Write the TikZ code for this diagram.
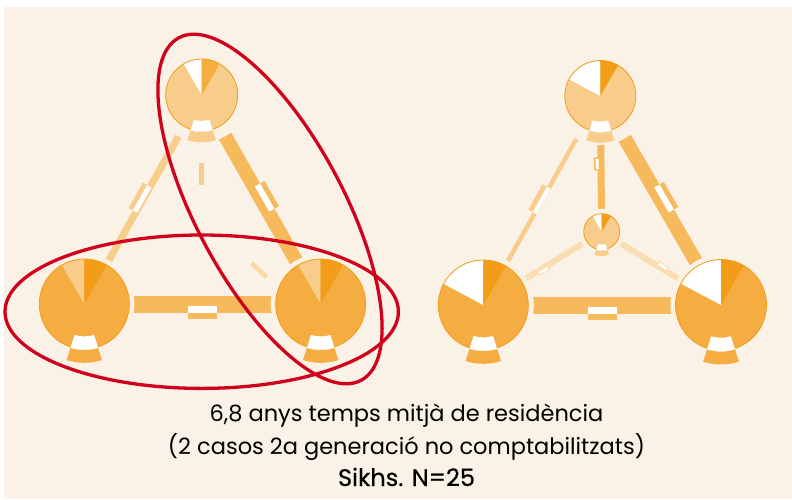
\documentclass[tikz,border=0pt]{standalone}
\usepackage{fontspec}
\setmainfont{Poppins}
\usepackage{tikz}
\usetikzlibrary{calc}
\definecolor{bgcream}{HTML}{FAF2E6}
\definecolor{lightor}{HTML}{F8CD8B}
\definecolor{midor}{HTML}{F5AD42}
\definecolor{edgeor}{HTML}{F6B95B}
\definecolor{darkor}{HTML}{F39C17}
\definecolor{paleor}{HTML}{FBDDB3}
\definecolor{ringred}{HTML}{D0021B}
% pie: centre, radius, base, end of left wedge, left wedge, right wedge, loop colour
\newcommand{\sharepie}[7]{%
  \pgfmathsetmacro{\pieRin}{0.72*#2}%
  \pgfmathsetmacro{\pieRout}{#2+0.6}%
  \pgfmathsetmacro{\pieRbot}{#2+1.2}%
  \pgfmathsetmacro{\pieRband}{1.28*#2+1.2}%
  \fill[#3] (#1) circle[radius=#2];
  \fill[#5] (#1) -- ++(90:#2) arc[start angle=90,end angle=#4,radius=#2] -- cycle;
  \fill[#6] (#1) -- ++(60:#2) arc[start angle=60,end angle=90,radius=#2] -- cycle;
  \draw[darkor,line width=0.8pt] (#1) circle[radius=#2];
  \fill[white] ($(#1)+(252.5:\pieRin)$) arc[start angle=252.5,end angle=287.5,radius=\pieRin]
    -- ($(#1)+(287.5:\pieRout)$) arc[start angle=287.5,end angle=252.5,radius=\pieRout] -- cycle;
  \fill[#7] ($(#1)+(252.5:\pieRbot)$) arc[start angle=252.5,end angle=287.5,radius=\pieRbot]
    -- ($(#1)+(287.5:\pieRband)$) arc[start angle=287.5,end angle=252.5,radius=\pieRband] -- cycle;
}
\tikzset{
  tag/.style={midway,sloped,inner sep=0pt,outer sep=0pt,minimum width=29pt},
  smalltag/.style={midway,sloped,inner sep=0pt,outer sep=0pt,minimum width=13pt},
  ring/.style={ringred,line width=3.3pt},
  caption/.style={anchor=base,font=\fontsize{22.5}{27}\selectfont},
}

\begin{document}
\begin{tikzpicture}[x=1pt,y=1pt]
\useasboundingbox (0,0) rectangle (792,-499);
\fill[white] (0,0) rectangle (792,-499);
\fill[bgcream] (4,-7) rectangle (792,-499);

%node centres
\coordinate (lt) at (201.7,-95);
\coordinate (lbl) at (84.3,-304);
\coordinate (lbr) at (320.7,-304);
\coordinate (rt) at (600.3,-96);
\coordinate (rbl) at (483.3,-305);
\coordinate (rbr) at (721,-305);
\coordinate (rc) at (601.7,-231.7);

%left edges
\draw[lightor,line width=7pt] (lt) -- (lbl)
  node[tag,above=-1.5pt,minimum height=10pt,fill=lightor]{}
  node[tag,above=-1.5pt,minimum height=5pt,fill=white]{};
\draw[edgeor,line width=14pt] (lt) -- (lbr)
  node[tag,above=1pt,minimum height=11pt,fill=edgeor]{}
  node[tag,above=1pt,minimum height=6pt,fill=white]{};
\draw[edgeor,line width=17pt] (lbl) -- (lbr)
  node[tag,below=2.2pt,minimum height=12.3pt,fill=edgeor]{}
  node[tag,below=2.2pt,minimum height=6.3pt,fill=white]{};

%right edges
\draw[lightor,line width=4.5pt] (rt) -- (rbl)
  node[tag,above=-2.25pt,minimum height=9.5pt,fill=lightor]{}
  node[tag,above=-2.25pt,minimum height=4.5pt,fill=white]{};
\draw[edgeor,line width=14pt] (rt) -- (rbr)
  node[tag,above=1pt,minimum height=11pt,fill=edgeor]{}
  node[tag,above=1pt,minimum height=6pt,fill=white]{};
\draw[edgeor,line width=17pt] (rbl) -- (rbr)
  node[tag,below=2.2pt,minimum height=12.3pt,fill=edgeor]{}
  node[tag,below=2.2pt,minimum height=6.3pt,fill=white]{};
\draw[edgeor,line width=7pt] (rt) -- (rc)
  node[smalltag,below=1pt,minimum height=6pt,fill=edgeor]{}
  node[smalltag,below=2.3pt,minimum height=3pt,minimum width=10pt,fill=white]{};
\draw[paleor,line width=6pt] (rc) -- (rbl)
  node[smalltag,below=0.5pt,minimum height=4.5pt,fill=paleor]{}
  node[smalltag,below=1.2pt,minimum height=2.6pt,minimum width=10pt,fill=white]{};
\draw[paleor,line width=6pt] (rc) -- (rbr)
  node[smalltag,above=0.5pt,minimum height=4.5pt,fill=paleor]{}
  node[smalltag,above=1.2pt,minimum height=2.6pt,minimum width=10pt,fill=white]{};

%gaps round the circles
\fill[bgcream] (lt) circle[radius=47.5];
\fill[bgcream] (lbl) circle[radius=50];
\fill[bgcream] (lbr) circle[radius=50];
\fill[bgcream] (rt) circle[radius=49];
\fill[bgcream] (rbl) circle[radius=50.5];
\fill[bgcream] (rbr) circle[radius=50.5];
\fill[bgcream] (rc) circle[radius=23];

%short marks, left
\coordinate (lsa) at (201.5,-163);
\coordinate (lsb) at (201.5,-185);
\coordinate (lsc) at (251.7,-263.3);
\coordinate (lsd) at (266.7,-277.3);
\draw[lightor,line width=4.5pt] (lsa) -- (lsb);
\draw[paleor!60!lightor,line width=4.5pt] (lsc) -- (lsd);

%circles
\sharepie{lt}{36}{lightor}{120}{white}{midor}{lightor}
\sharepie{lbl}{45}{midor}{120}{lightor}{darkor}{midor}
\sharepie{lbr}{45}{midor}{120}{lightor}{darkor}{midor}
\sharepie{rt}{35.5}{lightor}{152}{white}{darkor}{lightor}
\sharepie{rbl}{45}{midor}{152}{white}{darkor}{midor}
\sharepie{rbr}{45.5}{midor}{152}{white}{darkor}{midor}
\sharepie{rc}{18}{lightor}{120}{white}{darkor}{lightor}

%red rings
\coordinate (ringa) at (201.7,-311.7);
\coordinate (ringb) at (270,-209);
\draw[ring] (ringa) ellipse[x radius=196.7,y radius=76.7];
\draw[ring] (ringb) ellipse[x radius=194,y radius=74,rotate=-62];

%caption
\node[caption] (capa) at (406.5,-421.7) {6,8 anys temps mitjà de residència};
\node[caption] (capb) at (406.5,-454.3) {(2 casos 2a generació no comptabilitzats)};
\node[caption,font=\fontsize{24}{28}\selectfont] (capc) at (406.5,-486) {\addfontfeatures{FakeBold=0.5}Sikhs. N=25};
\end{tikzpicture}
\end{document}
